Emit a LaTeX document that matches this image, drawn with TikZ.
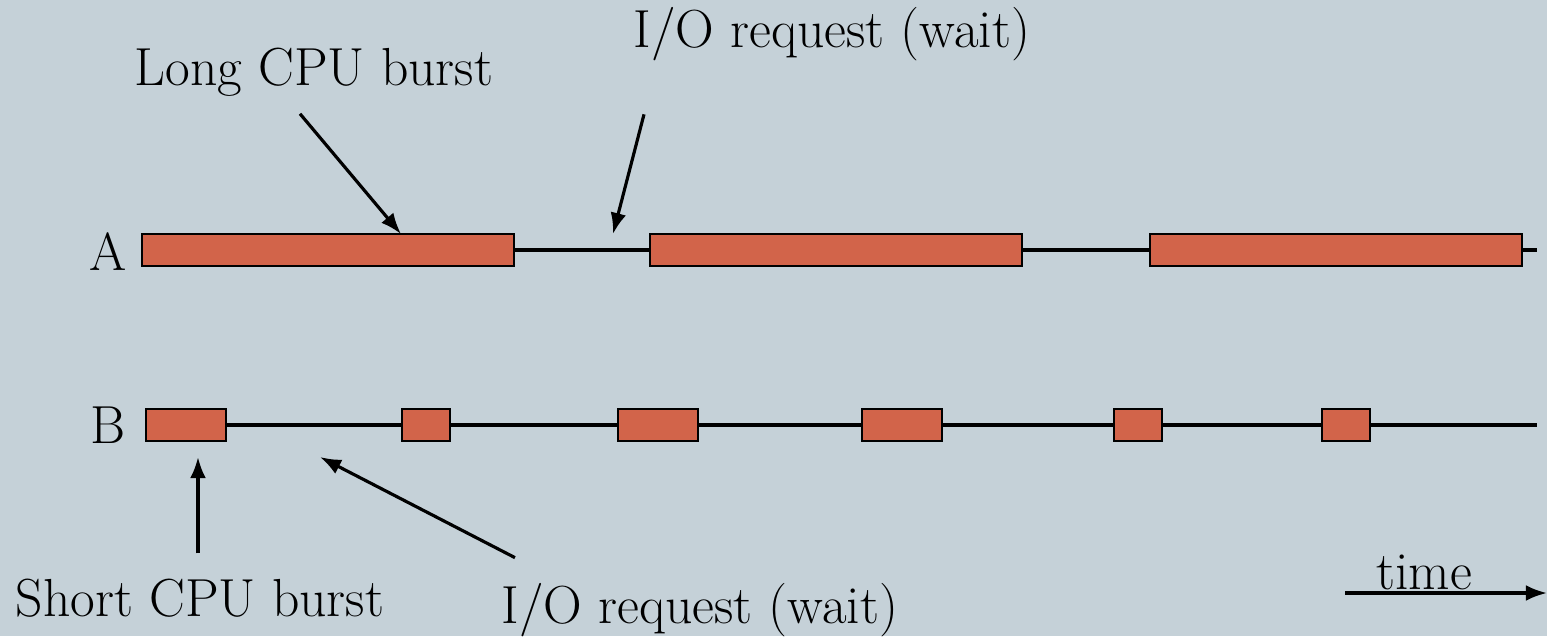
\documentclass[tikz,border=0pt]{standalone}
\usepackage{tikz}
\usetikzlibrary{arrows.meta}
\definecolor{slide}{RGB}{197,209,216}
\definecolor{burstred}{RGB}{210,100,74}
\tikzset{
  burst/.style={draw, fill=burstred, line width=1.5pt, minimum height=0.64cm, inner sep=0pt},
  lbl/.style={inner sep=0pt, font=\fontsize{30.5}{36}\selectfont}
}
\begin{document}
\begin{tikzpicture}[x=0.02cm, y=-0.02cm, >={Latex[length=12pt,width=9pt]}, line width=1.8pt]
\fill[slide] (0,0) rectangle (1547,636);
\useasboundingbox (0,0) rectangle (1547,636);
% process A: long bursts
\node[lbl] (pa) at (108,252) {A};
\node[burst, minimum width=7.44cm] (a1) at (328,250) {};
\node[burst, minimum width=7.44cm] (a2) at (836,250) {};
\node[burst, minimum width=7.44cm] (a3) at (1336,250) {};
\coordinate (aend) at (1537,250);
\draw (a1) -- (a2);
\draw (a2) -- (a3);
\draw (a3) -- (aend);
% process B: short bursts
\node[lbl] (pb) at (108,425) {B};
\node[burst, minimum width=1.6cm] (b1) at (186,425) {};
\node[burst, minimum width=0.96cm] (b2) at (426,425) {};
\node[burst, minimum width=1.6cm] (b3) at (658,425) {};
\node[burst, minimum width=1.6cm] (b4) at (902,425) {};
\node[burst, minimum width=0.96cm] (b5) at (1138,425) {};
\node[burst, minimum width=0.96cm] (b6) at (1346,425) {};
\coordinate (bend) at (1537,425);
\draw (b1) -- (b2);
\draw (b2) -- (b3);
\draw (b3) -- (b4);
\draw (b4) -- (b5);
\draw (b5) -- (b6);
\draw (b6) -- (bend);
% labels and pointers
\node[lbl] (longcpu) at (314,72) {Long CPU burst};
\node[lbl] (iotop) at (832,34) {I/O request (wait)};
\node[lbl] (shortcpu) at (200,598) {Short CPU burst};
\node[lbl] (iobot) at (700,610) {I/O request (wait)};
\coordinate (longtip) at (401,234);
\coordinate (iotoptip) at (613,234);
\coordinate (shorttip) at (198,457);
\coordinate (iobottip) at (320,457);
\draw[->] (longcpu.south) ++(-14,16) -- (longtip);
\draw[->] (iotop.south) ++(-188,52) -- (iotoptip);
\draw[->] (shortcpu.north) ++(-2,-24) -- (shorttip);
\draw[->] (iobot.north) ++(-185,-24) -- (iobottip);
% time axis
\coordinate (t0) at (1345,593);
\coordinate (t1) at (1547,593);
\draw[->] (t0) -- node[lbl, above=1pt, xshift=-0.44cm] (timelbl) {time} (t1);
\end{tikzpicture}
\end{document}
